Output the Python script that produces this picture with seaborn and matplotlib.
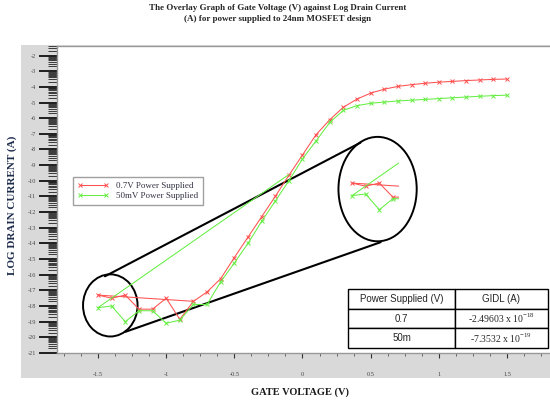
import numpy as np
import pandas as pd
import matplotlib
matplotlib.use("Agg")
import matplotlib.pyplot as plt
import matplotlib.ticker as mticker
from matplotlib.patches import Ellipse, Rectangle
from matplotlib.transforms import offset_copy
import seaborn as sns

# datos
gate_v = [-1.5, -1.4, -1.3, -1.2, -1.1, -1.0, -0.9, -0.8, -0.7, -0.6, -0.5,
          -0.4, -0.3, -0.2, -0.1, 0.0, 0.1, 0.2, 0.3, 0.4, 0.5,
          0.6, 0.7, 0.8, 0.9, 1.0, 1.1, 1.2, 1.3, 1.4, 1.5]
drain_07 = [-17.3, -17.5, -17.3, -18.2, -18.2, -17.5, -18.85, -17.7, -17.1, -16.25, -14.9,
            -13.6, -12.3, -11.0, -9.65, -8.35, -7.05, -6.1, -5.3, -4.78, -4.4,
            -4.15, -3.97, -3.86, -3.77, -3.7, -3.65, -3.6, -3.56, -3.52, -3.5]
drain_50m = [-18.1, -18.0, -19.0, -18.3, -18.3, -19.1, -18.9, -17.9, -17.9, -16.45, -15.25,
             -14.0, -12.6, -11.3, -10.0, -8.6, -7.45, -6.27, -5.5, -5.2, -5.05,
             -4.97, -4.9, -4.85, -4.8, -4.75, -4.7, -4.65, -4.6, -4.56, -4.53]
# tramos sueltos que aparecen en la figura
jump_07_v = [-1.5, -0.8]
jump_07_i = [-17.3, -17.7]
jump_50m_v = [-1.5, -0.1]
jump_50m_i = [-18.1, -9.6]

series_labels = ["0.7V Power Supplied", "50mV Power Supplied"]
x_ticks = [-1.5, -1.0, -0.5, 0.0, 0.5, 1.0, 1.5]
x_ticklabels = ["-1.5", "-1", "-0.5", "0", "0.5", "1", "1.5"]
y_ticks = list(range(-21, -1))

table_header = ["Power Supplied (V)", "GIDL (A)"]
table_power = ["0.7", "50m"]
table_gidl = [r"-2.49603 x 10$^{\mathregular{-18}}$", r"-7.3532 x 10$^{\mathregular{-19}}$"]

red = "#ff5050"
green = "#66ee44"

sns.set_style("white")
plt.rcParams["font.family"] = ["Liberation Serif", "DejaVu Serif"]

W, H = 550, 401
fig = plt.figure(figsize=(5.5, 4.01), dpi=100)

# fondo gris del marco
fig.add_artist(Rectangle((21 / W, 23 / H), 1 - 21 / W, (401 - 45 - 23) / H,
                         transform=fig.transFigure, facecolor="#d9d9d9",
                         edgecolor="none", zorder=-5))

ax = fig.add_axes([57 / W, 48 / H, 1 - 57 / W, (353 - 46) / H])
ax.set_facecolor("white")

df = pd.DataFrame({"v": gate_v, "i07": drain_07, "i50": drain_50m})

mk = dict(marker="x", markersize=3.3, markeredgewidth=0.7, linewidth=0.75)
sns.lineplot(data=df, x="v", y="i07", ax=ax, color=red, markeredgecolor=red, sort=False,
             estimator=None, label=series_labels[0], zorder=3, **mk)
sns.lineplot(data=df, x="v", y="i50", ax=ax, color=green, markeredgecolor=green, sort=False,
             estimator=None, label=series_labels[1], zorder=3, **mk)
ax.plot(jump_07_v, jump_07_i, color=red, linewidth=0.75, zorder=3)
ax.plot(jump_50m_v, jump_50m_i, color=green, linewidth=0.75, zorder=3)

# lupa: dos elipses y tangentes
ax.add_patch(Ellipse((-1.41, -17.96), 0.40, 3.97, fill=False, edgecolor="black", lw=1.4, zorder=2))
ax.add_patch(Ellipse((0.551, -10.53), 0.574, 6.67, fill=False, edgecolor="black", lw=1.4, zorder=2))
ax.plot([-1.449, 0.426], [-16.1, -7.56], color="black", lw=1.5, zorder=2)
ax.plot([-1.30, 0.574], [-19.65, -13.92], color="black", lw=1.5, zorder=2)

# copia ampliada dentro de la elipse derecha
tr = offset_copy(ax.transData, fig=fig, x=254, y=112, units="dots")
clip = Rectangle((0.297, -12.82), 0.411, 4.79, transform=ax.transData)
n = 7
for xs, ys, c in [(gate_v[:n], drain_07[:n], red), (gate_v[:n], drain_50m[:n], green)]:
    ln, = ax.plot(xs, ys, color=c, transform=tr, zorder=3, **mk)
    ln.set_clip_path(clip)
for xs, ys, c in [(jump_07_v, jump_07_i, red), (jump_50m_v, jump_50m_i, green)]:
    ln, = ax.plot(xs, ys, color=c, linewidth=0.75, transform=tr, zorder=3)
    ln.set_clip_path(clip)

ax.set_xlim(-1.801, 1.816)
ax.set_ylim(-21, -1.39)

# ejes
ax.set_xticks(x_ticks)
ax.set_xticklabels(x_ticklabels)
ax.xaxis.set_minor_locator(mticker.MultipleLocator(0.125))
ax.set_yticks(y_ticks)
ax.set_yticklabels([str(t) for t in y_ticks])
minor_y = [m + np.log10(k) for m in range(-22, -1) for k in range(2, 10)]
ax.yaxis.set_minor_locator(mticker.FixedLocator(minor_y))
ax.tick_params(axis="y", which="major", direction="out", length=13, width=1.2,
               color="black", labelsize=4.5, labelcolor="#444444", pad=2, left=True)
ax.tick_params(axis="y", which="minor", direction="out", length=6.5, width=0.6,
               color="#222222", left=True)
ax.tick_params(axis="x", which="major", direction="out", length=3.6, width=0.8,
               color="#333333", labelsize=4.5, labelcolor="#444444", pad=10, bottom=True)
ax.tick_params(axis="x", which="minor", direction="out", length=2.2, width=0.6,
               color="#555555", bottom=True)
ax.set_xlabel("")
ax.set_ylabel("")
for s in ["left", "bottom", "top"]:
    ax.spines[s].set_color("#999999")
    ax.spines[s].set_linewidth(1.0)
ax.spines["right"].set_visible(False)

leg = ax.legend(loc="upper left", bbox_to_anchor=(73 / W, 1 - 177 / H),
                bbox_transform=fig.transFigure, fontsize=6.5, numpoints=2,
                handlelength=3.5, labelspacing=0.25, borderpad=0.5,
                fancybox=False, frameon=True, borderaxespad=0)
leg.get_frame().set_edgecolor("#888888")
leg.get_frame().set_linewidth(1.0)
for t in leg.get_texts():
    t.set_color("#333344")

# titulo y etiquetas
fig.text(0.505, 1 - 4 / H,
         "The Overlay Graph of Gate Voltage (V) against Log Drain Current\n"
         "(A) for power supplied to 24nm MOSFET design",
         ha="center", va="top", fontsize=6.5, fontweight="bold", linespacing=1.55)
fig.text(12 / W, 1 - 205 / H, "LOG DRAIN CURRENT (A)", rotation=90, ha="center",
         va="center", fontsize=8, fontweight="bold", color="#1f2d4d")
fig.text(300 / W, 1 - 392 / H, "GATE VOLTAGE (V)", ha="center", va="center",
         fontsize=7.5, fontweight="bold", color="#1a1a1a")

# tabla GIDL
tax = fig.add_axes([348 / W, 1 - 348 / H, 200 / W, 59 / H])
tax.axis("off")
cells = [[p, g] for p, g in zip(table_power, table_gidl)]
tbl = tax.table(cellText=cells, colLabels=table_header, bbox=[0, 0, 1, 1],
                colWidths=[107 / 200, 93 / 200], cellLoc="center")
tbl.auto_set_font_size(False)
for (r, c), cell in tbl.get_celld().items():
    cell.set_edgecolor("black")
    cell.set_linewidth(1.0)
    txt = cell.get_text()
    txt.set_fontsize(7)
    if r > 0 and c == 1:
        txt.set_family(["Liberation Serif"])
    else:
        txt.set_family(["Liberation Sans"])

fig.savefig("out.png", dpi=100)
